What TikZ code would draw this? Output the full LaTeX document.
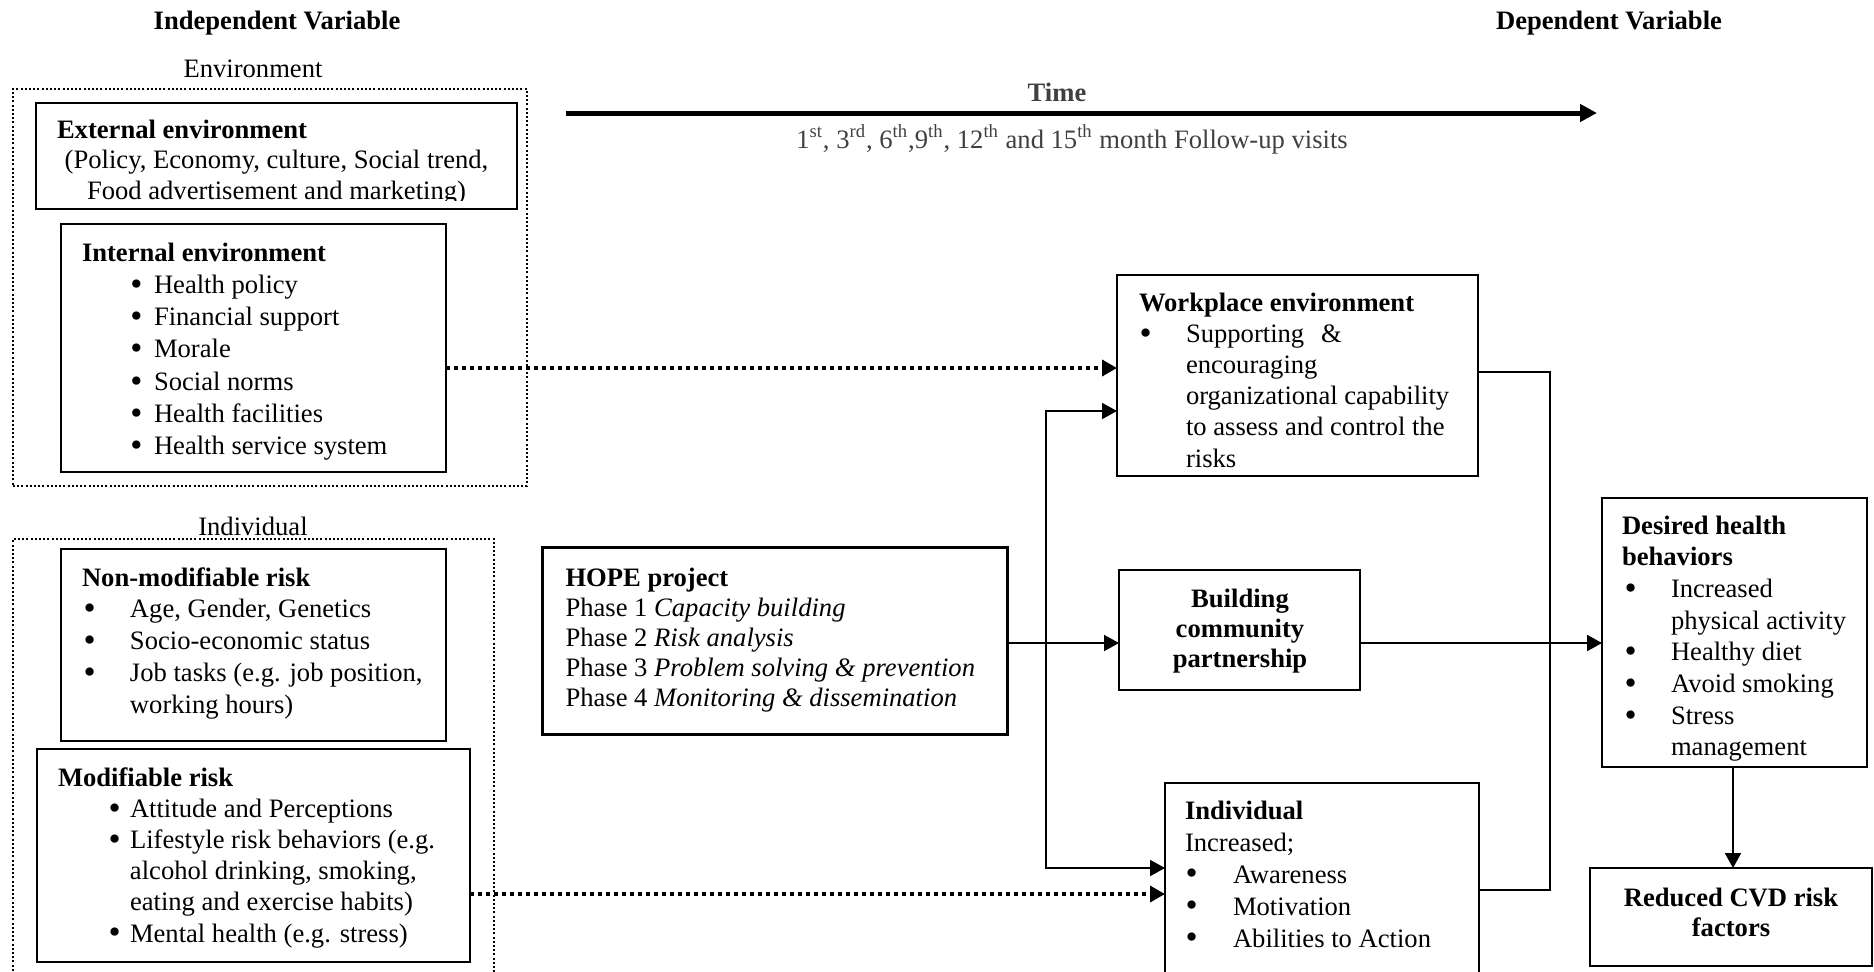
\documentclass[tikz,border=0pt]{standalone}
\usepackage{fontspec}
\setmainfont{Liberation Serif}
\usetikzlibrary{arrows.meta,fit}
\definecolor{timegray}{HTML}{404040}
\newcommand\fs{\fontsize{13.3pt}{16pt}\selectfont}
\newcommand\bdot{\raisebox{-0.15ex}{\scalebox{1.3}{\textbullet}}}
\newcommand\bl[3]{\hspace*{#1}\makebox[#2][l]{\bdot}#3}
\begin{document}
\begin{tikzpicture}[x=0.5pt,y=-0.5pt,
  every node/.style={inner sep=0pt, outer sep=0pt, font=\fs},
  box/.style={draw, line width=1pt, inner sep=0pt, fill=none},
  thickbox/.style={draw, line width=1.5pt, inner sep=0pt},
  dotbox/.style={draw, line width=1pt, dash pattern=on 1pt off 1.1pt},
  conn/.style={line width=1pt},
  arr/.style={line width=1pt, -{Triangle[length=7.5pt,width=8pt]}},
  dotarr/.style={line width=1.75pt, dash pattern=on 2pt off 2pt, -{Triangle[length=7.5pt,width=8pt]}},
  timearr/.style={line width=2.5pt, -{Triangle[length=8.5pt,width=8.5pt]}},
  bold/.style={font=\fs\bfseries}
]
\useasboundingbox (0,0) rectangle (1874,971);

% headings
\node[anchor=base, bold] (iv) at (277,29) {Independent Variable};
\node[anchor=base, bold] (dv) at (1609,29) {Dependent Variable};
\node[anchor=base] (envlbl) at (253,77) {Environment};
\node[anchor=base] (indlbl) at (253,535) {Individual};

% time arrow
\coordinate (t0) at (566,113);
\coordinate (t1) at (1597,113);
\draw[timearr] (t0) -- (t1);
\node[anchor=base, font=\fs\bfseries, text=timegray] (time) at (1057,101) {Time};
\node[anchor=base, text=timegray] (fu) at (1072,148) {1\textsuperscript{st}, 3\textsuperscript{rd}, 6\textsuperscript{th},9\textsuperscript{th}, 12\textsuperscript{th} and 15\textsuperscript{th} month Follow-up visits};

% environment group
\node[dotbox, fit={(13,89) (527,486)}, inner sep=0pt] (envbox) {};
\node[box, fit={(36,103) (517,209)}] (ext) {};
\node[anchor=base west, bold] (exttitle) at (57,138) {External environment};
\begin{scope}
  \clip (36,103) rectangle (517,200.5);
  \node[anchor=base] (exttxt) at (276.5,168) {\parbox[t]{235pt}{\centering\setlength\baselineskip{15.5pt}(Policy, Economy, culture, Social trend,\\Food advertisement and marketing)}};
\end{scope}
\node[box, fit={(61,224) (446,472)}] (intenv) {};
\node[anchor=base west] (inttxt) at (82,261) {\parbox[t]{180pt}{\setlength\baselineskip{16.15pt}\textbf{Internal environment}\\
\bl{24.25pt}{11.75pt}{Health policy}\\
\bl{24.25pt}{11.75pt}{Financial support}\\
\bl{24.25pt}{11.75pt}{Morale}\\
\bl{24.25pt}{11.75pt}{Social norms}\\
\bl{24.25pt}{11.75pt}{Health facilities}\\
\bl{24.25pt}{11.75pt}{Health service system}}};

% individual group
\draw[dotbox] (13,975) -- (13,539) -- (494,539) -- (494,975);
\node[box, fit={(61,549) (446,741)}] (nonmod) {};
\node[anchor=base west] (nonmodtxt) at (82,586) {\parbox[t]{180pt}{\setlength\baselineskip{15.9pt}\textbf{Non-modifiable risk}\\
\bl{0.75pt}{23.25pt}{Age, Gender, Genetics}\\
\bl{0.75pt}{23.25pt}{Socio-economic status}\\
\bl{0.75pt}{23.25pt}{Job tasks (e.g. job position,}\\
\hspace*{24pt}working hours)}};
\node[box, fit={(37,749) (470,962)}] (mod) {};
\node[anchor=base west] (modtxt) at (58,786) {\parbox[t]{200pt}{\setlength\baselineskip{15.6pt}\textbf{Modifiable risk}\\
\bl{25.25pt}{10.75pt}{Attitude and Perceptions}\\
\bl{25.25pt}{10.75pt}{Lifestyle risk behaviors (e.g.}\\
\hspace*{36pt}alcohol drinking, smoking,\\
\hspace*{36pt}eating and exercise habits)\\
\bl{25.25pt}{10.75pt}{Mental health (e.g. stress)}}};

% HOPE project
\node[thickbox, fit={(542,547) (1007,734)}] (hope) {};
\node[anchor=base west] (hopetxt) at (565.5,586) {\parbox[t]{225pt}{\setlength\baselineskip{15.1pt}\textbf{HOPE project}\\
Phase 1 \textit{Capacity building}\\
Phase 2 \textit{Risk analysis}\\
Phase 3 \textit{Problem solving \& prevention}\\
Phase 4 \textit{Monitoring \& dissemination}}};

% workplace environment
\node[box, fit={(1117,275) (1478,476)}] (wp) {};
\node[anchor=base west] (wptxt) at (1139,311) {\parbox[t]{170pt}{\setlength\baselineskip{15.6pt}\textbf{Workplace environment}\\
\bl{0.25pt}{23.25pt}{Supporting\hspace{8.5pt}\&}\\
\hspace*{23.5pt}encouraging\\
\hspace*{23.5pt}organizational capability\\
\hspace*{23.5pt}to assess and control the\\
\hspace*{23.5pt}risks}};

% building community partnership
\node[box, fit={(1119,570) (1360,690)}] (bcp) {};
\node[anchor=base] (bcptxt) at (1240,607) {\parbox[t]{110pt}{\centering\bfseries\setlength\baselineskip{15pt}Building\\community\\partnership}};

% individual outcome
\node[box, fit={(1165,783) (1479,975)}] (ind) {};
\node[anchor=base west] (indtxt) at (1185,819) {\parbox[t]{150pt}{\setlength\baselineskip{16pt}\textbf{Individual}\\
Increased;\\
\bl{0.25pt}{23.75pt}{Awareness}\\
\bl{0.25pt}{23.75pt}{Motivation}\\
\bl{0.25pt}{23.75pt}{Abilities to Action}}};

% desired health behaviors
\node[box, fit={(1602,498) (1867,767)}] (des) {};
\node[anchor=base west] (destxt) at (1622,534) {\parbox[t]{125pt}{\setlength\baselineskip{15.85pt}\textbf{Desired health}\\
\textbf{behaviors}\\
\bl{1.25pt}{23.25pt}{Increased}\\
\hspace*{24.5pt}physical activity\\
\bl{1.25pt}{23.25pt}{Healthy diet}\\
\bl{1.25pt}{23.25pt}{Avoid smoking}\\
\bl{1.25pt}{23.25pt}{Stress}\\
\hspace*{24.5pt}management}};

% reduced CVD risk factors
\node[box, fit={(1590,868) (1872,966)}] (red) {};
\node[anchor=base] (redtxt) at (1731,906) {\parbox[t]{135pt}{\centering\bfseries\setlength\baselineskip{15pt}Reduced CVD risk\\factors}};

% connectors
\coordinate (br) at (1046,643);
\coordinate (mg) at (1550,643);
\draw[dotarr] (intenv.east |- 0,368) -- (wp.west |- 0,368);
\draw[dotarr] (mod.east |- 0,894) -- (ind.west |- 0,894);
\draw[arr] (hope.east |- br) -- (bcp.west |- br);
\draw[arr] (br) |- (wp.west |- 0,411);
\draw[arr] (br) |- (ind.west |- 0,868);
\draw[conn] (wp.east |- 0,372) -| (mg);
\draw[conn] (ind.east |- 0,890) -| (mg);
\draw[arr] (bcp.east |- br) -- (des.west |- br);
\draw[arr] (des.south -| 1733,0) -- (red.north -| 1733,0);
\end{tikzpicture}
\end{document}
